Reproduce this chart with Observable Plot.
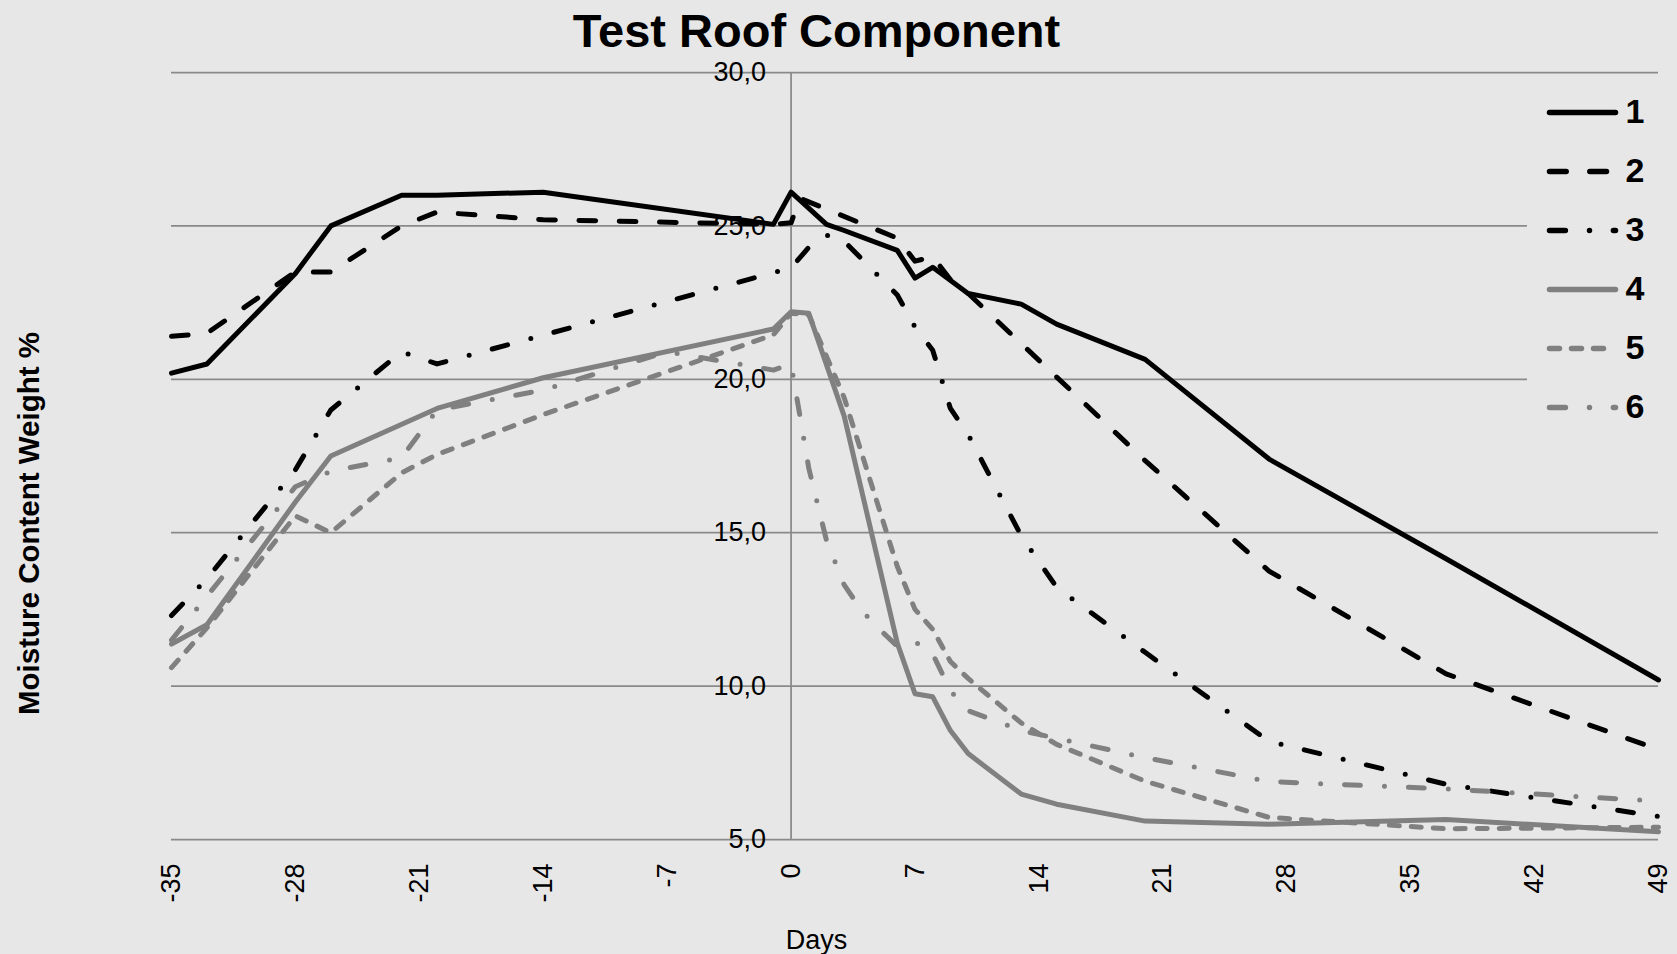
<!DOCTYPE html>
<html><head><meta charset="utf-8">
<script src="https://cdn.jsdelivr.net/npm/d3@7"></script>
<script src="https://cdn.jsdelivr.net/npm/@observablehq/plot@0.6"></script>
<style>
html,body{margin:0;padding:0;background:#e7e7e7;overflow:hidden;}
#wrap{position:relative;width:1677px;height:954px;}
#legend{position:absolute;left:1527px;top:82px;width:150px;height:356px;background:#e7e7e7;}
svg{display:block;}
</style></head><body><div id="wrap"><div id="chart"></div><div id="legend"></div></div>
<script>
// ---- data ----
const seriesNames = ["1", "2", "3", "4", "5", "6"];

const s1Days = [-35,-33,-28,-26,-22,-20,-14,-1,0,2,3,6,7,8,10,13,15,20,27,37,49];
const s1Vals = [20.2,20.5,23.45,25.0,26.0,26.0,26.1,25.05,26.1,25.05,24.85,24.2,23.3,23.65,22.8,22.45,21.8,20.65,17.4,14.15,10.2];

const s2Days = [-35,-33,-28,-26,-22,-20,-14,-1,0,0.5,6,7,8,9,10,20,27,37,49];
const s2Vals = [21.4,21.5,23.5,23.5,25.0,25.45,25.2,25.05,25.1,25.9,24.6,23.85,24.0,23.25,22.8,17.35,13.75,10.4,7.93];

const s3Days = [-35,-33,-28,-26,-22,-20,0,1,2,3,6,7,8,9,10,13,15,20,27,37,49];
const s3Vals = [12.3,13.5,17.05,19.0,20.9,20.5,23.63,24.3,24.7,24.5,22.75,21.7,20.95,19.05,18.2,14.9,13.22,11.1,8.2,6.8,5.75];

const s4Days = [-35,-33,-28,-26,-20,-14,-1,0,1,3,6,7,8,9,10,13,15,20,27,37,49];
const s4Vals = [11.37,12.0,16.0,17.5,19.05,20.05,21.64,22.2,22.15,18.8,11.4,9.75,9.65,8.55,7.8,6.48,6.15,5.6,5.5,5.65,5.25];

const s5Days = [-35,-33,-28,-26,-22,-20,-14,-1,0,1,3,6,7,8,9,10,13,15,20,27,37,49];
const s5Vals = [10.6,11.9,15.55,15.0,16.95,17.55,18.85,21.45,22.15,22.1,19.4,13.9,12.5,11.85,10.8,10.25,8.8,8.1,6.9,5.72,5.35,5.4];

const s6Days = [-35,-28,-26,-22,-20,-14,-7,-1,0,1,2,3,4,5,6,7,8,9,10,13,20,27,37,49];
const s6Vals = [11.5,16.5,17.0,17.45,19.0,19.65,20.9,20.3,20.5,17.1,14.75,13.3,12.45,11.85,11.3,11.45,11.05,9.85,9.2,8.55,7.67,6.89,6.65,6.25];

const xTicks = [-35,-28,-21,-14,-7,0,7,14,21,28,35,42,49];
const xTickLabels = ["-35","-28","-21","-14","-7","0","7","14","21","28","35","42","49"];
const yTicks = [5,10,15,20,25,30];
const yTickLabels = ["5,0","10,0","15,0","20,0","25,0","30,0"];

const titleText = "Test Roof Component";
const xTitle = "Days";
const yTitle = "Moisture Content Weight %";

// ---- styles ----
const BLACK = "#000000", GRAY = "#808080", GRID = "#8a8a8a";
const DASH = "16.7 23.6", DASHDOT = "15.9 24.1 0 23.9", SHORT = "10 12";
const look = {
  "1": {stroke: BLACK, dash: null},
  "2": {stroke: BLACK, dash: DASH},
  "3": {stroke: BLACK, dash: DASHDOT},
  "4": {stroke: GRAY, dash: null},
  "5": {stroke: GRAY, dash: SHORT},
  "6": {stroke: GRAY, dash: DASHDOT}
};

const table = [
  [s1Days, s1Vals], [s2Days, s2Vals], [s3Days, s3Vals],
  [s4Days, s4Vals], [s5Days, s5Vals], [s6Days, s6Vals]
].map(([ds, vs], k) => ds.map((d, i) => ({series: seriesNames[k], day: d, value: vs[i]})));

const FONT = "'Liberation Sans', Arial, sans-serif";

const lineMarks = table.map((rows, k) => Plot.line(rows, {
  x: "day", y: "value",
  stroke: look[seriesNames[k]].stroke,
  strokeWidth: 5,
  strokeDasharray: look[seriesNames[k]].dash || undefined,
  strokeLinecap: "round",
  strokeLinejoin: "round"
}));

const chart = Plot.plot({
  width: 1677, height: 954,
  marginLeft: 171, marginRight: 19, marginTop: 72, marginBottom: 115,
  x: {domain: [-35, 49], axis: null},
  y: {domain: [5, 30], axis: null},
  style: {background: "#e7e7e7", fontFamily: FONT, color: "#000", overflow: "visible"},
  marks: [
    Plot.ruleY(yTicks, {stroke: GRID, strokeWidth: 1.75}),
    Plot.ruleX([0], {stroke: GRID, strokeWidth: 1.75}),
    Plot.text(yTicks, {x: 0, y: d => d, text: (d, i) => yTickLabels[i], dx: -25,
      textAnchor: "end", lineAnchor: "middle", fontSize: 27}),
    ...lineMarks,
    Plot.text(xTicks, {x: d => d, y: 5, text: (d, i) => xTickLabels[i], rotate: -90,
      textAnchor: "end", lineAnchor: "middle", dy: 24, fontSize: 27}),
    Plot.text([titleText], {text: d => d, frameAnchor: "top", dx: -98.5, dy: -26,
      textAnchor: "middle", lineAnchor: "bottom", fontSize: 47, fontWeight: "bold"}),
    Plot.text([xTitle], {text: d => d, frameAnchor: "bottom", dx: -98.5, dy: 109,
      textAnchor: "middle", lineAnchor: "bottom", fontSize: 27}),
    Plot.text([yTitle], {text: d => d, frameAnchor: "left", dx: -132.5, dy: 67.5, rotate: -90,
      textAnchor: "middle", lineAnchor: "bottom", fontSize: 29.5, fontWeight: "bold"})
  ]
});
document.getElementById("chart").appendChild(chart);

// ---- legend ----
const legend = Plot.plot({
  width: 150, height: 356, margin: 0,
  x: {domain: [0, 1], range: [22.5, 88.5], axis: null},
  y: {type: "point", domain: seriesNames, range: [28, 327], padding: 0, axis: null},
  style: {background: "#e7e7e7", fontFamily: FONT, color: "#000", overflow: "visible"},
  marks: [
    ...seriesNames.map(s => Plot.ruleY([s], {y: d => d, x1: 0, x2: 1,
      stroke: look[s].stroke, strokeWidth: 5.5,
      strokeDasharray: look[s].dash || undefined, strokeLinecap: "round"})),
    Plot.text(seriesNames, {x: 1, y: d => d, text: d => d, dx: 9.5,
      textAnchor: "start", lineAnchor: "middle", fontSize: 34, fontWeight: "bold"})
  ]
});
document.getElementById("legend").appendChild(legend);
</script></body></html>
